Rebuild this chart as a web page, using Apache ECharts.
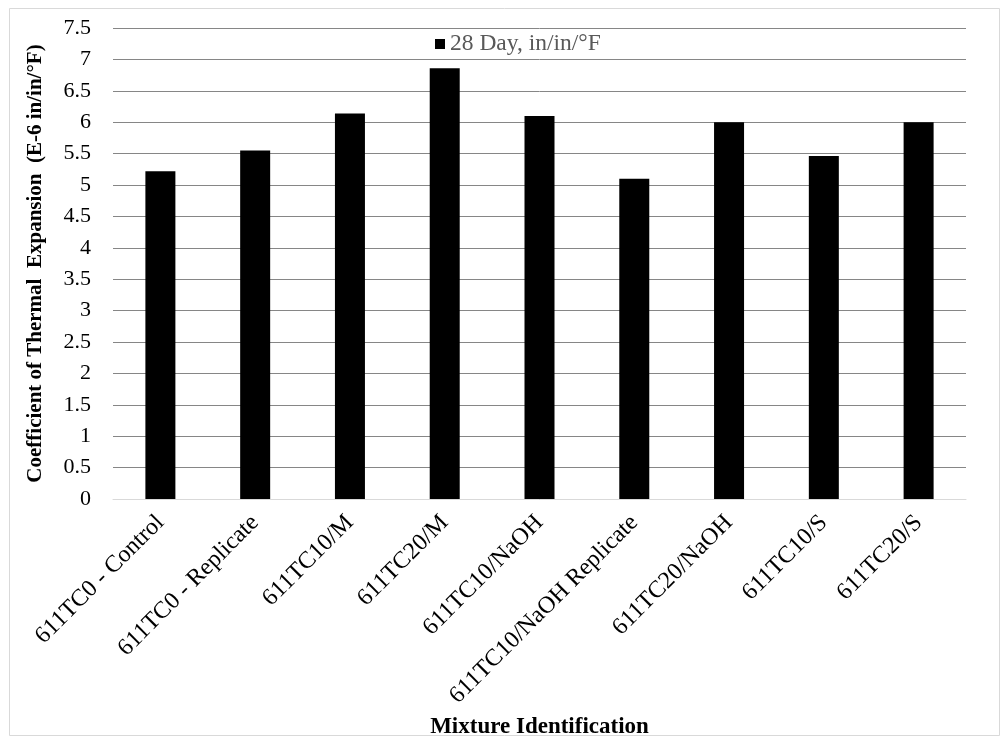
<!DOCTYPE html>
<html><head><meta charset="utf-8">
<script src="https://cdn.jsdelivr.net/npm/echarts@6/dist/echarts.min.js"></script>
<style>html,body{margin:0;padding:0;background:#fff}#c{width:1002px;height:738px}</style>
</head><body><div id="c"></div>
<script>
var categories = ["611TC0 - Control","611TC0 - Replicate","611TC10/M","611TC20/M","611TC10/NaOH","611TC10/NaOH Replicate","611TC20/NaOH","611TC10/S","611TC20/S"];
var values28 = [5.22, 5.55, 6.14, 6.86, 6.10, 5.10, 6.00, 5.46, 6.00];
var seriesName = "28 Day, in/in/°F";
var yTitle = "Coefficient of Thermal  Expansion  (E-6 in/in/°F)";
var xTitle = "Mixture Identification";
var font = "'Liberation Serif','Times New Roman',serif";
var chart = echarts.init(document.getElementById('c'), null, {renderer:'canvas'});
chart.setOption({
  animation:false,
  backgroundColor:'#fff',
  graphic:[{type:'rect',shape:{x:9.5,y:8.5,width:990,height:727},style:{fill:'none',stroke:'#d9d9d9',lineWidth:1}}],
  legend:{left:430,top:27,icon:'rect',itemWidth:10,itemHeight:10,itemGap:6,
    textStyle:{fontFamily:font,fontSize:23.5,color:'#595959'},data:[seriesName]},
  grid:{left:113,right:36,top:28,bottom:239,containLabel:false,outerBoundsMode:'none'},
  xAxis:{type:'category',data:categories,
    axisLine:{lineStyle:{color:'#d9d9d9',width:1}},axisTick:{show:false},
    axisLabel:{rotate:45,interval:0,margin:20,fontFamily:font,fontSize:24,color:'#000'},
    name:xTitle,nameLocation:'middle',nameGap:209,
    nameTextStyle:{fontFamily:font,fontSize:23,fontWeight:'bold',color:'#000'}},
  yAxis:{type:'value',min:0,max:7.5,interval:0.5,
    axisLine:{show:false},axisTick:{show:false},
    splitLine:{lineStyle:{color:'#868686',width:1}},
    axisLabel:{margin:22,fontFamily:font,fontSize:22,color:'#000'},
    name:yTitle,nameLocation:'middle',nameGap:67,
    nameTextStyle:{fontFamily:font,fontSize:21,fontWeight:'bold',color:'#000'}},
  series:[{type:'bar',name:seriesName,data:values28,barWidth:30,
    itemStyle:{color:'#000'}}]
});
</script></body></html>
